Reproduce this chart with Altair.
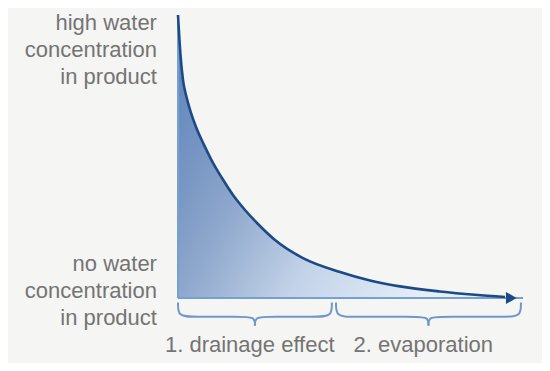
import altair as alt
import pandas as pd

# ---- data -------------------------------------------------------------
time = [0, 0.72, 1.45, 2.32, 3.77, 5.22, 7.54, 9.86, 12.75, 15.94, 19.42,
        22.9, 28.12, 36.23, 46.96, 55.65, 64.35, 75.94, 86.09, 94.78]
water = [100, 85.9, 77.0, 71.7, 65.4, 60.4, 54.1, 48.4, 42.4, 36.4, 31.1,
         26.5, 20.5, 14.1, 9.2, 6.2, 4.1, 2.3, 1.13, 0.35]

phase_labels = ["1. drainage effect", "2. evaporation"]
phase_start = [0, 45.8]
phase_end = [44.6, 99.4]

y_labels = ["high water\nconcentration\nin product", "no water\nconcentration\nin product"]
y_label_level = [94.7, 9.5]

axis_end = 100

# ---- layout (scale domains chosen so the plot fills the page) ---------
W, H = 534, 355
X_PX, Y_PX = 3.45, 2.83          # pixels per data unit
ORIGIN_X, ORIGIN_Y = 170, 290    # plot-area pixel of (0, 0)
XDOM = [-ORIGIN_X / X_PX, (W - ORIGIN_X) / X_PX]
YDOM = [-(H - ORIGIN_Y) / Y_PX, ORIGIN_Y / Y_PX]

NAVY = "#1c4a87"
LIGHT = "#74a0d2"
BRACE = "#6f98c8"
GREY = "#747474"
FONT = "Liberation Sans"

xs = alt.Scale(domain=XDOM, nice=False, zero=False)
ys = alt.Scale(domain=YDOM, nice=False, zero=False)

curve = pd.DataFrame({"t": time, "w": water})

area = alt.Chart(curve).mark_area(
    interpolate="monotone",
    color=alt.Gradient(
        gradient="linear",
        stops=[
            alt.GradientStop(color="#5a80b8", offset=0),
            alt.GradientStop(color="#7896c4", offset=0.25),
            alt.GradientStop(color="#8ea7cc", offset=0.4),
            alt.GradientStop(color="#c3d3e8", offset=0.67),
            alt.GradientStop(color="#dbe6f3", offset=0.9),
            alt.GradientStop(color="#e6eef8", offset=1),
        ],
        x1=0, x2=1, y1=0, y2=0.5,
    ),
).encode(
    x=alt.X("t:Q", scale=xs, axis=None),
    y=alt.Y("w:Q", scale=ys, axis=None),
    y2=alt.datum(0),
)

line = alt.Chart(curve).mark_line(
    interpolate="monotone", color=NAVY, strokeWidth=2.6
).encode(x=alt.X("t:Q", scale=xs), y=alt.Y("w:Q", scale=ys))

# axes
axes_df = pd.DataFrame({
    "x": [0, 0], "x2": [0, axis_end],
    "y": [0, 0], "y2": [100, 0],
})
axes = alt.Chart(axes_df).mark_rule(color=LIGHT, strokeWidth=2).encode(
    x=alt.X("x:Q", scale=xs), x2="x2:Q",
    y=alt.Y("y:Q", scale=ys), y2="y2:Q",
)

arrow = alt.Chart(pd.DataFrame({"x": [axis_end - 3.4], "y": [0]})).mark_point(
    shape="triangle-right", filled=True, size=150, color=NAVY, opacity=1
).encode(x=alt.X("x:Q", scale=xs), y=alt.Y("y:Q", scale=ys))

# braces
TOP, MID, TIP, R = -1.6, -6.6, -9.8, 4.5
rows = []
for i, (a, b) in enumerate(zip(phase_start, phase_end)):
    c = (a + b) / 2
    halves = [
        [(a, TOP), (a, MID), (a + R, MID), (c - R, MID), (c, MID), (c, TIP)],
        [(c, TIP), (c, MID), (c + R, MID), (b - R, MID), (b, MID), (b, TOP)],
    ]
    for h, pts in enumerate(halves):
        for k, (px, py) in enumerate(pts):
            rows.append({"seg": f"{i}-{h}", "k": k, "x": px, "y": py})
brace_df = pd.DataFrame(rows)
braces = alt.Chart(brace_df).mark_line(
    interpolate="basis", color=BRACE, strokeWidth=2
).encode(
    x=alt.X("x:Q", scale=xs), y=alt.Y("y:Q", scale=ys),
    detail="seg:N", order="k:Q",
)

phase_df = pd.DataFrame({
    "label": phase_labels,
    "x": [(a + b) / 2 - 1.5 for a, b in zip(phase_start, phase_end)],
    "y": [-19.0, -19.0],
})
phase_text = alt.Chart(phase_df).mark_text(
    align="center", baseline="alphabetic", fontSize=22, font=FONT, color=GREY
).encode(x=alt.X("x:Q", scale=xs), y=alt.Y("y:Q", scale=ys), text="label:N")

ylab_df = pd.DataFrame({"label": y_labels, "x": [-6.1, -6.1], "y": y_label_level})
ylab_text = alt.Chart(ylab_df).mark_text(
    align="right", baseline="alphabetic", fontSize=22, font=FONT, color=GREY,
    lineBreak="\n", lineHeight=27,
).encode(x=alt.X("x:Q", scale=xs), y=alt.Y("y:Q", scale=ys), text="label:N")

chart = alt.layer(area, axes, line, arrow, braces, phase_text, ylab_text).properties(
    width=W, height=H,
    autosize=alt.AutoSizeParams(type="none"),
    padding=0,
    background="#f5f5f3",
).configure_view(stroke=None)

chart.save("out.html", embed_options={"renderer": "svg", "actions": False})
